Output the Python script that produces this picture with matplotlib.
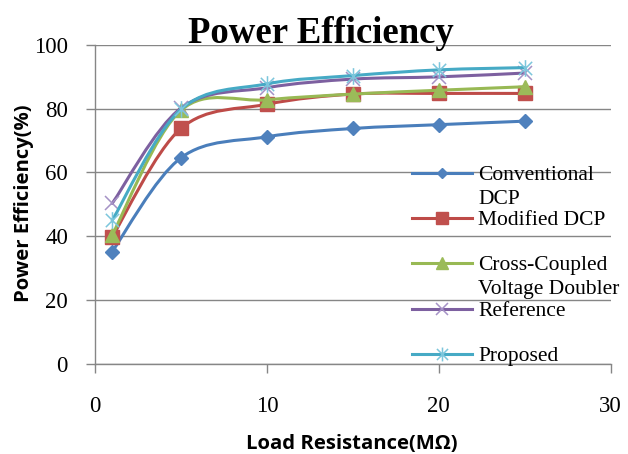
import matplotlib
matplotlib.use("Agg")
import matplotlib.pyplot as plt
import numpy as np
from matplotlib.path import Path
from matplotlib.patches import PathPatch
from matplotlib.lines import Line2D

# ---------------- data ----------------
load_resistance = [1, 5, 10, 15, 20, 25]
conventional_dcp = [35.2, 64.6, 71.2, 73.8, 75.0, 76.1]
modified_dcp = [39.8, 73.8, 81.4, 84.6, 84.8, 84.8]
cross_coupled = [40.4, 79.5, 82.8, 84.6, 85.8, 86.9]
reference = [50.3, 80.2, 86.6, 89.3, 90.0, 91.2]
proposed = [45.0, 79.8, 87.8, 90.4, 92.2, 92.9]

series_labels = ["Conventional\nDCP", "Modified DCP",
                 "Cross-Coupled\nVoltage Doubler", "Reference", "Proposed"]
x_ticks = [0, 10, 20, 30]
y_ticks = [0, 20, 40, 60, 80, 100]
title = "Power Efficiency"
x_label = "Load Resistance(MΩ)"
y_label = "Power Efficiency(%)"

# ---------------- styles ----------------
W, H = 628, 454
fig = plt.figure(figsize=(W / 100, H / 100), dpi=100)
ax = fig.add_axes([95 / W, 1 - 363.7 / H, (610.7 - 95) / W, (363.7 - 45) / H])

grid_col = "#868686"
serif = ["Liberation Serif", "DejaVu Serif"]

asterisk = Path([(-1, -1), (1, 1), (-1, 1), (1, -1), (0, -1.25), (0, 1.25)],
                [Path.MOVETO, Path.LINETO, Path.MOVETO, Path.LINETO,
                 Path.MOVETO, Path.LINETO])

styles = [
    dict(line="#4A7EBB", marker="D", ms=7.2, mfc="#4F81BD", mec="#4F81BD", mew=1, lms=5.5),
    dict(line="#BE4B48", marker="s", ms=10, mfc="#C0504D", mec="#C0504D", mew=1, lms=8.5),
    dict(line="#98B954", marker="^", ms=10.5, mfc="#9BBB59", mec="#9BBB59", mew=1, lms=9),
    dict(line="#7D60A0", marker="x", ms=10, mfc="none", mec="#A592C6", mew=1.1, lms=9),
    dict(line="#46AAC5", marker=asterisk, ms=12, mfc="none", mec="#7CC6DC", mew=1.1, lms=10),
]
all_series = [conventional_dcp, modified_dcp, cross_coupled, reference, proposed]


def smooth_path(xs, ys):
    pts = np.column_stack([xs, ys]).astype(float)
    n = len(pts)
    verts = [pts[0]]
    codes = [Path.MOVETO]
    for i in range(n - 1):
        p0 = pts[i - 1] if i > 0 else pts[i]
        p1 = pts[i]
        p2 = pts[i + 1]
        p3 = pts[i + 2] if i + 2 < n else pts[i + 1]
        c1 = p1 + (p2 - p0) / 6.0
        c2 = p2 - (p3 - p1) / 6.0
        verts += [c1, c2, p2]
        codes += [Path.CURVE4] * 3
    return Path(verts, codes)


for vals, st in zip(all_series, styles):
    patch = PathPatch(smooth_path(load_resistance, vals), fill=False,
                      edgecolor=st["line"], lw=2.2, transform=ax.transData,
                      capstyle="round", joinstyle="round", zorder=3)
    ax.add_patch(patch)
    ax.plot(load_resistance, vals, linestyle="none", marker=st["marker"],
            ms=st["ms"], mfc=st["mfc"], mec=st["mec"], mew=st["mew"],
            zorder=3, clip_on=False)

ax.set_xlim(0, 30)
ax.set_ylim(0, 100)
ax.set_xticks(x_ticks)
ax.set_yticks(y_ticks)
ax.set_xticklabels([str(t) for t in x_ticks])
ax.set_yticklabels([str(t) for t in y_ticks])
for lab in ax.get_xticklabels() + ax.get_yticklabels():
    lab.set_family(serif)
    lab.set_fontsize(16.5)
ax.tick_params(axis="both", direction="out", length=6.5, width=1, colors=grid_col,
               labelcolor="black")
ax.tick_params(axis="y", pad=13)
ax.tick_params(axis="x", pad=17)
ax.grid(axis="y", color=grid_col, lw=1)
ax.set_axisbelow(True)
for s in ["top", "right"]:
    ax.spines[s].set_visible(False)
for s in ["left", "bottom"]:
    ax.spines[s].set_color(grid_col)
    ax.spines[s].set_linewidth(1)

# title and axis labels
fig.text(321 / W, 1 - 43 / H, title, ha="center", va="baseline",
         family=serif, fontweight="bold", fontsize=26.5)
fig.text(352 / W, 1 - 444 / H, x_label, ha="center", va="center",
         family=["Open Sans", "DejaVu Sans"], fontweight="bold", fontsize=14.6)
fig.text(24 / W, 1 - 203 / H, y_label, ha="center", va="center", rotation=90,
         family=["Open Sans", "DejaVu Sans"], fontweight="bold", fontsize=14.6)

# legend (manual, drawn without frame over the plot like the reference)
entry_y = [172.7, 218.3, 263.3, 309.3, 354.0]
line_gap = 24.0
for lab, st, yc in zip(series_labels, styles, entry_y):
    yf = 1 - yc / H
    fig.add_artist(Line2D([411.7 / W, 471.7 / W], [yf, yf], color=st["line"],
                          lw=2.2, transform=fig.transFigure))
    fig.add_artist(Line2D([441.7 / W], [yf], linestyle="none", marker=st["marker"],
                          ms=st["lms"], mfc=st["mfc"], mec=st["mec"], mew=st["mew"],
                          transform=fig.transFigure))
    for k, part in enumerate(lab.split("\n")):
        yb = yc + k * line_gap + 6.8
        fig.text(478.3 / W, 1 - yb / H, part, ha="left", va="baseline",
                 family=serif, fontsize=15.5)

fig.savefig("out.png", dpi=100)
